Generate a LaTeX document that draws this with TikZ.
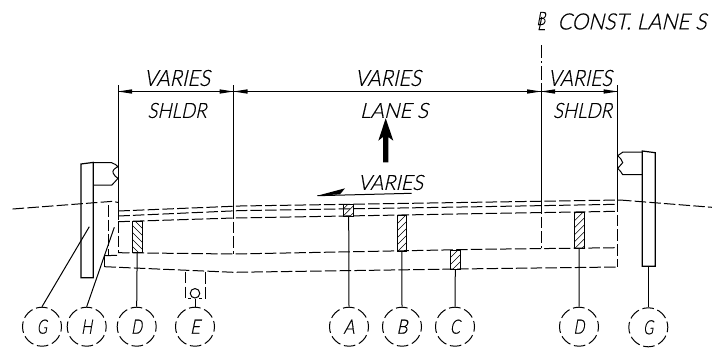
\documentclass[tikz,border=0pt]{standalone}
\usepackage{graphicx}
\usepackage{fontspec}
\setmainfont{Lato Light}
\newfontfamily\cadfont{Lato Light}[FakeSlant=0.24,FakeBold=0.6]
\tikzset{
  x=1pt,y=-1pt,
  ln/.style={line width=1pt,black},
  dsh/.style={line width=1pt,black,dash pattern=on 11.5pt off 3.2pt},
  lead/.style={line width=1pt,black},
  callout/.style={circle,draw=black,line width=1pt,dash pattern=on 11.6pt off 3.8pt,dash phase=5.8pt,minimum size=39pt,inner sep=0pt},
  hatchbase/.style={rectangle,draw=black,line width=1pt,inner sep=0pt},
  hatchR/.style={hatchbase,path picture={
    \foreach \k in {-63,-56,...,63}{
      \draw[line width=0.6pt,black] ([xshift=-20pt,yshift=\k pt-20pt]path picture bounding box.center) -- ([xshift=20pt,yshift=\k pt+20pt]path picture bounding box.center);}}},
  hatchL/.style={hatchbase,path picture={
    \foreach \k in {-63,-56,...,63}{
      \draw[line width=0.6pt,black] ([xshift=-20pt,yshift=\k pt+20pt]path picture bounding box.center) -- ([xshift=20pt,yshift=\k pt-20pt]path picture bounding box.center);}}},
  lab/.style={inner sep=0pt,black},
}
\newcommand{\cad}[3]{\resizebox{#1pt}{#2pt}{\cadfont #3}}
\begin{document}
\begin{tikzpicture}
\useasboundingbox (0,0) rectangle (712,356);
\fill[white] (0,0) rectangle (712,356);
% dimension ext lines
\draw[ln] (118,85) -- (118,220);
\draw[ln] (233.5,85) -- (233.5,207);
\draw[ln] (617.7,85) -- (617.7,200);
% centre line
\draw[ln] (541,45) -- (541,58) (541,61) -- (541,63) (541,66) -- (541,80) (541,83) -- (541,202);
\draw[dsh] (541,202) -- (541,248);
% dimension lines
\draw[ln] (118,91.5) -- (617.7,91.5);
\foreach \a/\d in {118/1,233.5/-1,233.5/1,541/-1,541/1,617.7/-1}{
  \fill[black] (\a,91.5) -- (\a+14*\d,89.3) -- (\a+14*\d,93.7) -- cycle;
}
% texts
\node[lab] at (177,78) {\cad{66}{16}{VARIES}};
\node[lab] at (177,110.5) {\cad{59}{15}{SHLDR}};
\node[lab] at (388,78) {\cad{66}{16}{VARIES}};
\node[lab] at (394,110.5) {\cad{68}{15}{LANE S}};
\node[lab] at (580,78) {\cad{64}{16}{VARIES}};
\node[lab] at (582.5,110.5) {\cad{59}{15}{SHLDR}};
\node[lab] at (541,18.5) {\cad{9}{13}{B}};
\node[lab] at (541,23.5) {\cad{8}{13}{L}};
\node[lab] at (632,21.5) {\cad{149}{16}{CONST. LANE S}};
\node[lab] at (390.5,182.5) {\cad{65}{15}{VARIES}};
% slope arrow
\draw[ln] (411.7,193.3) -- (317.3,195.7);
\fill[black] (317.3,195.7) -- (345,188.3) -- (340,194.3) -- cycle;
% big arrow
\fill[black] (385.7,118.3) -- (393.3,140.7) -- (388.3,137) -- (388.3,162.3) -- (383,162.3) -- (383,137) -- (378.3,140.7) -- cycle;
% ground
\draw[dsh] (12.7,209) -- (113,201.3) -- (118,202.5);
\draw[dsh] (620,200) -- (712,207.3);
% layers
\draw[dsh] (118.3,211) -- (240,206) -- (480,202.2) -- (620,200);
\draw[dsh] (118.3,216) -- (240,210.6) -- (480,206.7) -- (617.7,204.3);
\draw[dsh] (118.3,221.7) -- (233.5,218) -- (480,213.6) -- (617.7,211.3);
\draw[dsh] (118,252.7) -- (233.5,254) -- (480,249.3) -- (617.7,247.7);
\draw[dsh] (104.5,266.7) -- (233.5,272.3) -- (480,268.7) -- (617.7,267);
\draw[dsh] (617.7,200) -- (617.7,267);
\draw[dsh] (118,221) -- (118,252.7);
\draw[dsh] (233.5,207) -- (233.5,254);
\draw[dsh] (108.5,205) -- (108.5,255.5);
\draw[ln] (105,255.7) -- (117,255.3);
\draw[dsh] (104.5,255.7) -- (104.5,266.7);
% E box
\draw[dsh] (185.3,271.8) -- (185.3,298.3) -- (191,298.3);
\draw[dsh] (205,272.2) -- (205,298.3) -- (199,298.3);
\node[circle,draw=black,line width=1pt,minimum size=9.5pt,inner sep=0pt] (handle) at (195,293.3) {};
% left curb
\draw[ln,line width=1.2pt] (81,164) -- (93.3,162.4) -- (93.3,277.7) -- (81,277.7) -- cycle;
\draw[ln] (93.3,162.7) -- (111.7,162.7) .. controls (115,164) and (116.5,165) .. (118,166.7) .. controls (114,168.5) and (112,171) .. (113.3,173.3) .. controls (114,175.5) and (116,177) .. (118,178.3) .. controls (116,180.5) and (114,183) .. (111.7,185.2) -- (93.3,185.2);
% right curb
\draw[ln,line width=1.2pt] (642.3,151) -- (655.3,152.7) -- (655.3,266.3) -- (642.3,266.3) -- cycle;
\draw[ln] (642.3,152.2) -- (622.7,152.2) .. controls (621,153.5) and (619.5,154.5) .. (617.7,155.7) .. controls (620,157.5) and (622,160) .. (622.7,162.7) .. controls (621,164.5) and (619.5,166.5) .. (617.7,168.3) .. controls (620,170.5) and (621.5,172.5) .. (622.7,174.7) -- (642.3,174.7);
% hatched boxes
\node[hatchL,minimum width=9.7pt,minimum height=31pt] (hD) at (137.15,237.2) {};
\node[hatchR,minimum width=10pt,minimum height=11.6pt] (hA) at (348.7,210.5) {};
\node[hatchR,minimum width=9.7pt,minimum height=35.7pt] (hB) at (401.85,233.15) {};
\node[hatchR,minimum width=10pt,minimum height=19.3pt] (hC) at (455.3,259.65) {};
\node[hatchR,minimum width=9.7pt,minimum height=35.7pt] (hD2) at (579.15,230.15) {};
% callouts
\node[callout] (cG) at (42,326.7) {\cad{10}{14}{G}};
\node[callout] (cH) at (86.7,326.7) {\cad{11}{14}{H}};
\node[callout] (cD) at (136.7,326.7) {\cad{11}{14}{D}};
\node[callout] (cE) at (195,326.7) {\cad{10}{14}{E}};
\node[callout] (cA) at (349,326.7) {\cad{11}{14}{A}};
\node[callout] (cB) at (402,326.7) {\cad{11}{14}{B}};
\node[callout] (cC) at (455,326.7) {\cad{10}{14}{C}};
\node[callout] (cD2) at (579,326.7) {\cad{11}{14}{D}};
\node[callout] (cG2) at (648.3,327.3) {\cad{10}{14}{G}};
% leaders
\coordinate (gL) at (89.3,226.7);
\coordinate (hL) at (114.3,227.3);
\coordinate (gR) at (648.3,266.3);
\draw[lead] (cG.north) -- (gL);
\draw[lead] (cH.north) -- (hL);
\draw[lead] (cD.north) -- (hD.south);
\draw[lead] (cE.north) -- (handle.south);
\draw[lead] (cA.north) -- (hA.south);
\draw[lead] (cB.north) -- (hB.south);
\draw[lead] (cC.north) -- (hC.south);
\draw[lead] (cD2.north) -- (hD2.south);
\draw[lead] (cG2.north) -- (gR);
\end{tikzpicture}
\end{document}
